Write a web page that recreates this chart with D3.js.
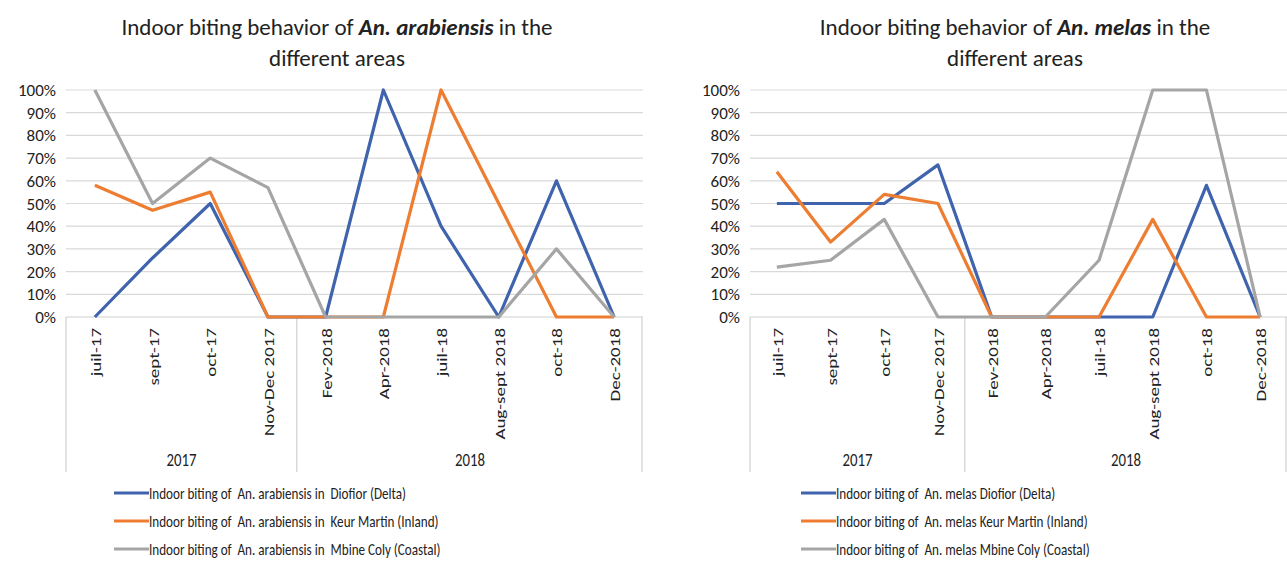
<!DOCTYPE html>
<html>
<head>
<meta charset="utf-8">
<script src="https://cdn.jsdelivr.net/npm/d3@7/dist/d3.min.js"></script>
<style>
  body { margin: 0; background: #fff; }
  svg { display: block; font-family: Carlito, Lato, "Open Sans", sans-serif; }
  text { white-space: pre; }
</style>
</head>
<body>
<svg id="chart" width="1287" height="563"></svg>
<script>
// Categories shared by both panels (multi-level axis: year groups underneath)
const months = ['juil-17', 'sept-17', 'oct-17', 'Nov-Dec 2017', 'Fev-2018', 'Apr-2018',
  'juil-18', 'Aug-sept 2018', 'oct-18', 'Dec-2018'];
const years = [{ label: '2017', from: 0, to: 4 }, { label: '2018', from: 4, to: 10 }];
const yTicks = [0, 10, 20, 30, 40, 50, 60, 70, 80, 90, 100];

// An. arabiensis (% indoor biting)
const arabDiofior = [0, 26, 50, 0, 0, 100, 40, 0, 60, 0];
const arabKeur    = [58, 47, 55, 0, 0, 0, 100, 50, 0, 0];
const arabMbine   = [100, 50, 70, 57, 0, 0, 0, 0, 30, 0];

// An. melas (% indoor biting)
const melasDiofior = [50, 50, 50, 67, 0, 0, 0, 0, 58, 0];
const melasKeur    = [64, 33, 54, 50, 0, 0, 0, 43, 0, 0];
const melasMbine   = [22, 25, 43, 0, 0, 0, 25, 100, 100, 0];

const colors = ['#3f63ad', '#ed7d31', '#a5a5a5'];
const ink = '#222';

const svg = d3.select('#chart');

function panel(opt) {
  const g = svg.append('g');
  const x = d3.scaleBand().domain(months).range([opt.left, opt.right]);
  const y = d3.scaleLinear().domain([0, 100]).range([317, 90]);
  const cx = (m) => x(m) + x.bandwidth() / 2;

  // title (two lines, species in bold italic)
  const t = g.append('text').attr('x', opt.titleX).attr('y', 35)
    .attr('text-anchor', 'middle').attr('font-size', 23).attr('fill', ink);
  t.append('tspan').text('Indoor biting behavior of ');
  t.append('tspan').attr('font-weight', 'bold').attr('font-style', 'italic').text(opt.species);
  t.append('tspan').text(' in the');
  g.append('text').attr('x', opt.titleX).attr('y', 66).attr('text-anchor', 'middle')
    .attr('font-size', 23).attr('fill', ink).text('different areas');

  // gridlines + y labels
  g.append('g').selectAll('line').data(yTicks.slice(1)).join('line')
    .attr('x1', opt.left).attr('x2', opt.right)
    .attr('y1', (d) => y(d)).attr('y2', (d) => y(d))
    .attr('stroke', '#d9d9d9').attr('stroke-width', 1.2);
  g.append('g').selectAll('text').data(yTicks).join('text')
    .attr('x', opt.left - 10).attr('y', (d) => y(d) + 6)
    .attr('text-anchor', 'end').attr('font-size', 17).attr('fill', ink)
    .text((d) => d + '%');

  // category axis: baseline + group separators
  g.append('line').attr('x1', opt.left).attr('x2', opt.right)
    .attr('y1', y(0)).attr('y2', y(0)).attr('stroke', '#d0d0d0').attr('stroke-width', 1.2);
  const seps = [0, 4, 10].map((i) => i === 10 ? opt.right - 1 : x(months[i]));
  g.append('g').selectAll('line').data(seps).join('line')
    .attr('x1', (d) => d).attr('x2', (d) => d)
    .attr('y1', y(0)).attr('y2', 472).attr('stroke', '#d0d0d0').attr('stroke-width', 1.2);

  // rotated month labels, a little squeezed across like the source
  g.append('g').selectAll('text').data(months).join('text')
    .attr('transform', (d) => `translate(${cx(d) + 6},${y(0) + 11}) rotate(-90) scale(1,0.8)`)
    .attr('text-anchor', 'end').attr('font-size', 19).attr('fill', ink)
    .text((d) => d);
  g.append('g').selectAll('text').data(years).join('text')
    .attr('transform', (d) => {
      const mx = (x(months[d.from]) + (d.to === 10 ? opt.right : x(months[d.to]))) / 2;
      return `translate(${mx},466) scale(0.8,1)`;
    })
    .attr('text-anchor', 'middle').attr('font-size', 18.5).attr('fill', ink)
    .text((d) => d.label);

  // lines
  const line = d3.line().x((d, i) => cx(months[i])).y((d) => y(d));
  opt.series.forEach((s, k) => {
    g.append('path').datum(s.values).attr('d', line)
      .attr('fill', 'none').attr('stroke', colors[k]).attr('stroke-width', 3.2)
      .attr('stroke-linejoin', 'round');
  });

  // legend
  const lg = g.append('g').selectAll('g').data(opt.series).join('g')
    .attr('transform', (d, i) => `translate(${opt.legendX},${493 + i * 28})`);
  lg.append('line').attr('x1', 0).attr('x2', 35).attr('y1', 0).attr('y2', 0)
    .attr('stroke', (d, i) => colors[i]).attr('stroke-width', 3);
  lg.append('text').attr('transform', 'translate(35,6) scale(0.82,1)')
    .attr('font-size', 16).attr('fill', ink)
    .text((d) => d.name);
}

panel({
  left: 66, right: 643, titleX: 337, legendX: 114, species: 'An. arabiensis',
  series: [
    { name: 'Indoor biting of  An. arabiensis in  Diofior (Delta)', values: arabDiofior },
    { name: 'Indoor biting of  An. arabiensis in  Keur Martin (Inland)', values: arabKeur },
    { name: 'Indoor biting of  An. arabiensis in  Mbine Coly (Coastal)', values: arabMbine },
  ],
});
panel({
  left: 750, right: 1287, titleX: 1015, legendX: 801, species: 'An. melas',
  series: [
    { name: 'Indoor biting of  An. melas Diofior (Delta)', values: melasDiofior },
    { name: 'Indoor biting of  An. melas Keur Martin (Inland)', values: melasKeur },
    { name: 'Indoor biting of  An. melas Mbine Coly (Coastal)', values: melasMbine },
  ],
});
</script>
</body>
</html>
